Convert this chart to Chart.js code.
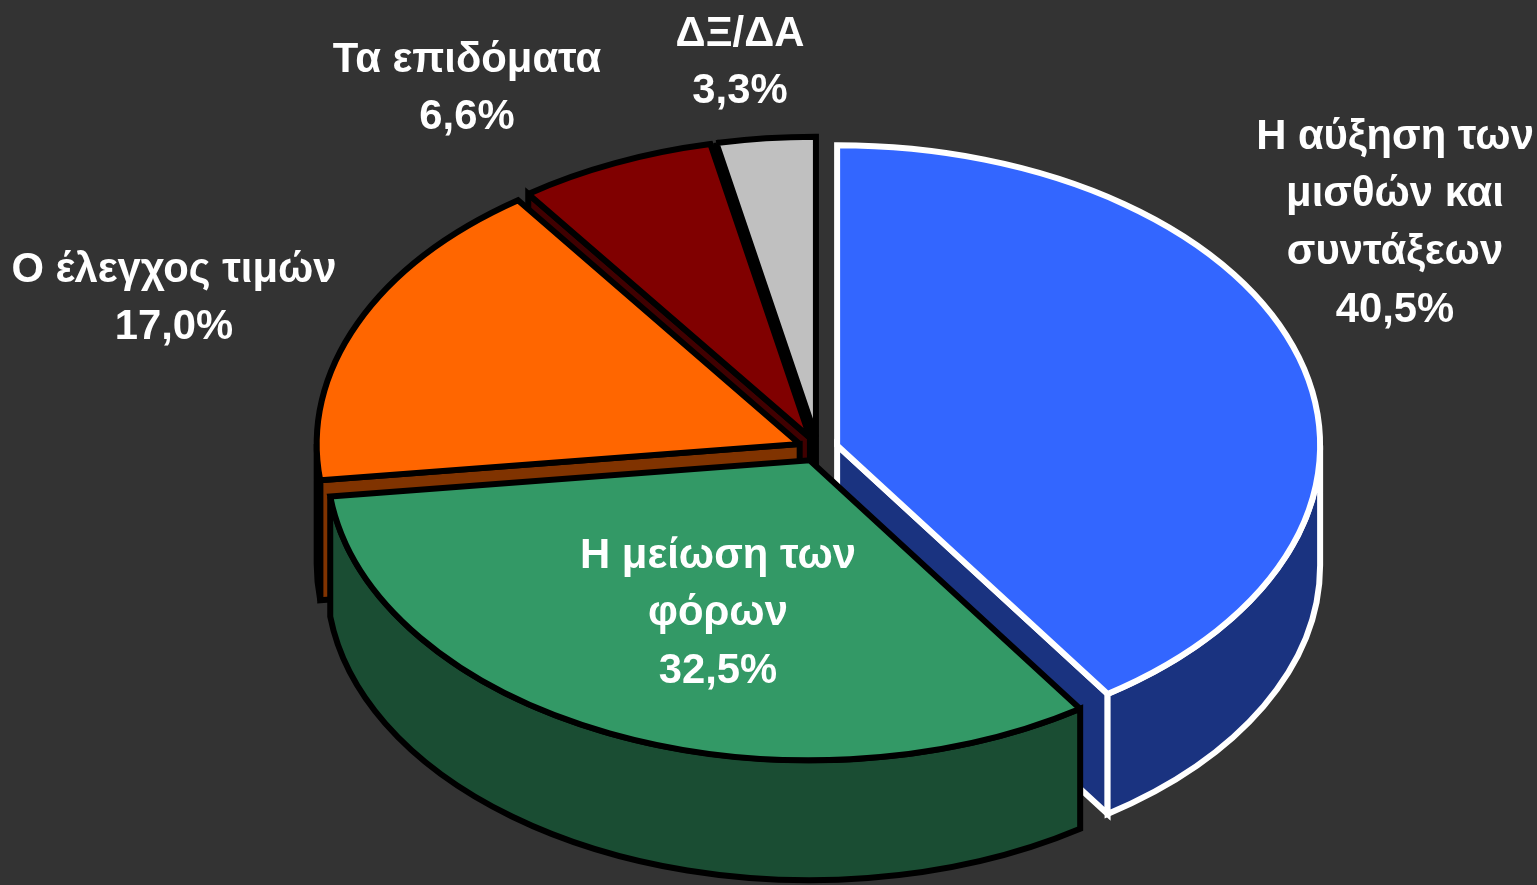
<!DOCTYPE html>
<html lang="el">
<head>
<meta charset="utf-8">
<title>Pie</title>
<script src="https://cdn.jsdelivr.net/npm/chart.js@4"></script>
<style>
    html, body { margin: 0; padding: 0; background: #333333; overflow: hidden; }
    canvas { display: block; }
</style>
</head>
<body>
<canvas id="pieChart" width="1537" height="885"></canvas>
<script>
// data
const categories = [
    ['Η αύξηση των', 'μισθών και', 'συντάξεων'],
    ['Η μείωση των', 'φόρων'],
    ['Ο έλεγχος τιμών'],
    ['Τα επιδόματα'],
    ['ΔΞ/ΔΑ']
];
const shares = [40.5, 32.5, 17.0, 6.6, 3.3];

// styles
const topColors = ['#3366FF', '#339966', '#FF6600', '#800000', '#C0C0C0'];
const sideColors = ['#1A3380', '#1A4D33', '#803300', '#400000', '#000000'];
const edgeColors = ['#FFFFFF', '#000000', '#000000', '#000000', '#000000'];

// label centres (x, y of the first line)
const labelX = [1395, 718, 174, 467, 740];
const labelY = [137, 556, 270, 60, 34];
const lineGap = 57.7;

// 3d look
const centerX = 818, centerY = 449;
const radiusX = 483, radiusY = 300;
const depth = 120, explode = 20;
const drawOrder = [4, 3, 2, 0, 1];

const pie3d = {
    id: 'pie3d',
    beforeDatasetsDraw(chart) {
        const ctx = chart.ctx;
        const arcs = chart.getDatasetMeta(0).data;
        ctx.lineWidth = 6;
        ctx.lineJoin = 'miter';
        ctx.miterLimit = 2.5;

        drawOrder.forEach(i => {
            const arc = arcs[i];
            const start = arc.startAngle, end = arc.endAngle;
            const mid = (start + end) / 2;
            const ox = centerX + Math.cos(mid) * explode;
            const oy = centerY + Math.sin(mid) * explode * radiusY / radiusX;
            ctx.fillStyle = sideColors[i];
            ctx.strokeStyle = edgeColors[i];

            // cut faces that look towards the viewer
            [[start, Math.cos(start) < -0.01], [end, Math.cos(end) > 0.01]].forEach(([a, visible]) => {
                if (!visible) return;
                const px = ox + Math.cos(a) * radiusX, py = oy + Math.sin(a) * radiusY;
                ctx.beginPath();
                ctx.moveTo(ox, oy);
                ctx.lineTo(px, py);
                ctx.lineTo(px, py + depth);
                ctx.lineTo(ox, oy + depth);
                ctx.closePath();
                ctx.fill();
                ctx.stroke();
            });

            // outer wall, only the front half of the rim
            const a0 = Math.max(start, 0), a1 = Math.min(end, Math.PI);
            if (a1 > a0) {
                ctx.beginPath();
                ctx.ellipse(ox, oy, radiusX, radiusY, 0, a0, a1);
                ctx.ellipse(ox, oy + depth, radiusX, radiusY, 0, a1, a0, true);
                ctx.closePath();
                ctx.fill();
                ctx.stroke();
            }

            // top face from the chart's own arc; its path is kept for an even stroke
            ctx.save();
            ctx.translate(ox, oy);
            ctx.scale(radiusX / arc.outerRadius, radiusY / arc.outerRadius);
            ctx.translate(-arc.x, -arc.y);
            arc.draw(ctx);
            ctx.restore();
            ctx.stroke();
        });
        return false;
    },
    afterDraw(chart) {
        const ctx = chart.ctx;
        ctx.save();
        ctx.font = 'bold 41.8px "Liberation Sans", Arial, sans-serif';
        ctx.fillStyle = '#FFFFFF';
        ctx.textAlign = 'center';
        ctx.textBaseline = 'middle';
        ctx.filter = 'blur(0.6px)';
        categories.forEach((lines, i) => {
            const rows = lines.concat(shares[i].toFixed(1).replace('.', ',') + '%');
            rows.forEach((row, r) => {
                ctx.fillText(row, labelX[i], labelY[i] + r * lineGap);
            });
        });
        ctx.restore();
    }
};

new Chart(document.getElementById('pieChart').getContext('2d'), {
    type: 'pie',
    data: {
        labels: categories.map(c => c.join(' ')),
        datasets: [{
            data: shares,
            backgroundColor: topColors,
            borderWidth: 0
        }]
    },
    options: {
        responsive: false,
        animation: false,
        plugins: {
            legend: { display: false },
            tooltip: { enabled: false }
        }
    },
    plugins: [pie3d]
});
</script>
</body>
</html>
